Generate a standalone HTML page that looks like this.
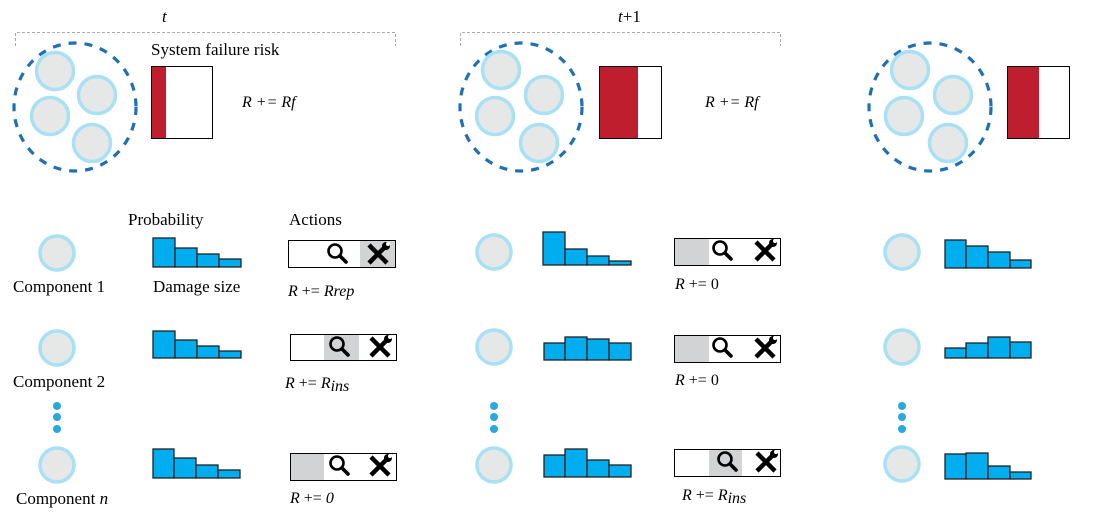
<!DOCTYPE html>
<html><head><meta charset="utf-8"><style>
html,body{margin:0;padding:0;background:#fff}
svg{display:block}
text{font-family:"Liberation Serif",serif;font-size:17px;fill:#000}
.i{font-style:italic}
</style></head><body>
<svg width="1103" height="512" viewBox="0 0 1103 512" xmlns="http://www.w3.org/2000/svg">
<defs>
<g id="mag"><circle cx="-2" cy="-2" r="6.5" fill="none" stroke="#000" stroke-width="2.6"/><line x1="3" y1="3" x2="9" y2="9" stroke="#000" stroke-width="3.6" stroke-linecap="round"/></g>
<g id="wr"><line x1="-9" y1="-9" x2="9" y2="9" stroke="#000" stroke-width="4.5"/><line x1="9" y1="-9" x2="-9" y2="9" stroke="#000" stroke-width="4.5"/><circle cx="8" cy="-8" r="4" fill="#000"/><circle cx="10" cy="-10" r="2" fill="#fff"/></g>
<g id="cc"><circle r="17" fill="#e6e7e7" stroke="#a8e0f6" stroke-width="3.5"/></g>
<g id="sc"><circle r="18.5" fill="#e6e7e7" stroke="#a8e0f6" stroke-width="3.5"/></g>
</defs>
<!-- brackets -->
<path d="M15.5 46 V32.5 H395.5 V46" fill="none" stroke="#aaa" stroke-dasharray="3,2"/>
<path d="M460.5 46 V32.5 H780.5 V46" fill="none" stroke="#aaa" stroke-dasharray="3,2"/>
<text x="162" y="22" class="i">t</text>
<text x="618" y="22"><tspan class="i">t</tspan>+1</text>
<!-- system groups -->
<g>
<ellipse cx="75" cy="107" rx="61" ry="64" fill="none" stroke="#1f6fb6" stroke-width="3.2" stroke-dasharray="8,8"/>
<use href="#sc" x="55" y="71"/><use href="#sc" x="97" y="95"/><use href="#sc" x="50" y="116"/><use href="#sc" x="92" y="143"/>
<rect x="151.5" y="66.5" width="61" height="72" fill="#fff" stroke="#000"/>
<rect x="152" y="67" width="14" height="71" fill="#be1e2d"/>
<text x="151" y="55">System failure risk</text>
<text x="242" y="107" class="i" style="font-size:16px">R += Rf</text>
</g>
<g>
<ellipse cx="521" cy="107" rx="61" ry="64" fill="none" stroke="#1f6fb6" stroke-width="3.2" stroke-dasharray="8,8"/>
<use href="#sc" x="501" y="70"/><use href="#sc" x="544" y="95"/><use href="#sc" x="495" y="116"/><use href="#sc" x="539" y="143"/>
<rect x="599.5" y="66.5" width="62" height="72" fill="#fff" stroke="#000"/>
<rect x="600" y="67" width="38" height="71" fill="#be1e2d"/>
<text x="705" y="107" class="i" style="font-size:16px">R += Rf</text>
</g>
<g>
<ellipse cx="930" cy="107" rx="61" ry="64" fill="none" stroke="#1f6fb6" stroke-width="3.2" stroke-dasharray="8,8"/>
<use href="#sc" x="910" y="70"/><use href="#sc" x="953" y="95"/><use href="#sc" x="904" y="116"/><use href="#sc" x="948" y="143"/>
<rect x="1007.5" y="66.5" width="62" height="72" fill="#fff" stroke="#000"/>
<rect x="1008" y="67" width="31" height="71" fill="#be1e2d"/>
</g>
<!-- headers -->
<text x="128" y="225">Probability</text>
<text x="289" y="225">Actions</text>
<text x="153" y="292">Damage size</text>
<text x="13" y="292">Component 1</text>
<text x="13" y="387">Component 2</text>
<text x="16" y="504">Component <tspan class="i">n</tspan></text>
<!-- component circles -->
<use href="#cc" x="57" y="253"/><use href="#cc" x="57" y="348"/><use href="#cc" x="57" y="465"/>
<use href="#cc" x="494" y="252"/><use href="#cc" x="494" y="347"/><use href="#cc" x="494" y="465"/>
<use href="#cc" x="902" y="252"/><use href="#cc" x="902" y="347"/><use href="#cc" x="902" y="464"/>
<g fill="#29a8e0">
<circle cx="57" cy="406" r="4"/><circle cx="57" cy="417" r="4"/><circle cx="57" cy="429" r="4"/>
<circle cx="494" cy="406" r="4"/><circle cx="494" cy="417" r="4"/><circle cx="494" cy="429" r="4"/>
<circle cx="902" cy="406" r="4"/><circle cx="902" cy="417" r="4"/><circle cx="902" cy="429" r="4"/>
</g>
<!-- histograms -->
<g fill="#00aeef" stroke="#222" stroke-width="1.3">
<rect x="153" y="238" width="22" height="29"/><rect x="175" y="248" width="22" height="19"/><rect x="197" y="254" width="22" height="13"/><rect x="219" y="259" width="22" height="8"/>
<rect x="153" y="331" width="22" height="27"/><rect x="175" y="340" width="22" height="18"/><rect x="197" y="346" width="22" height="12"/><rect x="219" y="351" width="22" height="7"/>
<rect x="153" y="449" width="21" height="29"/><rect x="174" y="458" width="22" height="20"/><rect x="196" y="465" width="22" height="13"/><rect x="218" y="470" width="22" height="8"/>
<rect x="543" y="232" width="22" height="33"/><rect x="565" y="249" width="22" height="16"/><rect x="587" y="256" width="22" height="9"/><rect x="609" y="261" width="22" height="4"/>
<rect x="544" y="343" width="21" height="17"/><rect x="565" y="337" width="22" height="23"/><rect x="587" y="339" width="22" height="21"/><rect x="609" y="343" width="22" height="17"/>
<rect x="544" y="455" width="21" height="22"/><rect x="565" y="449" width="22" height="28"/><rect x="587" y="460" width="22" height="17"/><rect x="609" y="465" width="22" height="12"/>
<rect x="945" y="240" width="21" height="28"/><rect x="966" y="246" width="22" height="22"/><rect x="988" y="252" width="22" height="16"/><rect x="1010" y="260" width="21" height="8"/>
<rect x="945" y="348" width="21" height="10"/><rect x="966" y="343" width="22" height="15"/><rect x="988" y="337" width="22" height="21"/><rect x="1010" y="342" width="21" height="16"/>
<rect x="945" y="454" width="21" height="25"/><rect x="966" y="453" width="22" height="26"/><rect x="988" y="466" width="22" height="13"/><rect x="1010" y="472" width="21" height="7"/>
</g>
<!-- action boxes -->
<g>
<rect x="360" y="241" width="35" height="26" fill="#d1d3d4"/>
<rect x="288.5" y="240.5" width="107" height="27" fill="none" stroke="#000"/>
<use href="#mag" x="337" y="253"/><use href="#wr" x="378" y="254"/>
<rect x="324" y="335" width="35" height="25" fill="#d1d3d4"/>
<rect x="290.5" y="334.5" width="106" height="26" fill="none" stroke="#000"/>
<use href="#mag" x="339" y="346"/><use href="#wr" x="380" y="347"/>
<rect x="291" y="454" width="33" height="26" fill="#d1d3d4"/>
<rect x="290.5" y="453.5" width="106" height="27" fill="none" stroke="#000"/>
<use href="#mag" x="339" y="465"/><use href="#wr" x="380" y="466"/>
<rect x="675" y="239" width="34" height="26" fill="#d1d3d4"/>
<rect x="674.5" y="238.5" width="106" height="27" fill="none" stroke="#000"/>
<use href="#mag" x="722" y="250"/><use href="#wr" x="765" y="251"/>
<rect x="675" y="336" width="34" height="26" fill="#d1d3d4"/>
<rect x="674.5" y="335.5" width="106" height="27" fill="none" stroke="#000"/>
<use href="#mag" x="722" y="347"/><use href="#wr" x="765" y="348"/>
<rect x="709" y="450" width="33" height="26" fill="#d1d3d4"/>
<rect x="674.5" y="449.5" width="106" height="27" fill="none" stroke="#000"/>
<use href="#mag" x="727" y="461"/><use href="#wr" x="766" y="462"/>
</g>
<!-- reward labels -->
<text x="288" y="296" style="font-size:16px"><tspan class="i">R</tspan> += <tspan class="i">Rrep</tspan></text>
<text x="285" y="388" style="font-size:16px"><tspan class="i">R</tspan> += <tspan class="i">R</tspan><tspan class="i" dy="3">ins</tspan></text>
<text x="290" y="503" style="font-size:16px"><tspan class="i">R</tspan> += <tspan class="i">0</tspan></text>
<text x="675" y="289" style="font-size:16px"><tspan class="i">R</tspan> += 0</text>
<text x="675" y="385" style="font-size:16px"><tspan class="i">R</tspan> += 0</text>
<text x="682" y="500" style="font-size:16px"><tspan class="i">R</tspan> += <tspan class="i">R</tspan><tspan class="i" dy="3">ins</tspan></text>
</svg>
</body></html>
